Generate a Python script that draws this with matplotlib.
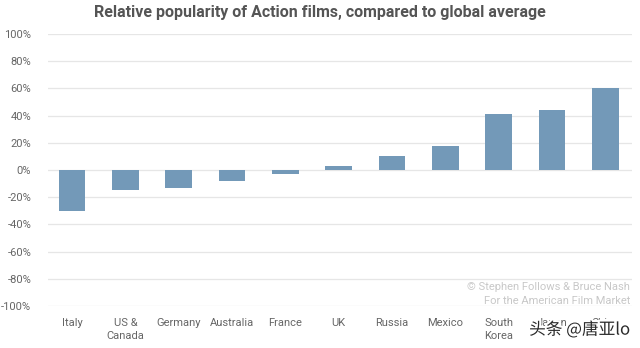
"""
Relative popularity of Action films by country, compared to the global average.
"""

import matplotlib.pyplot as plt
import matplotlib.patheffects as pe
from matplotlib.ticker import FuncFormatter

countries = ['Italy', 'US &\nCanada', 'Germany', 'Australia', 'France', 'UK',
             'Russia', 'Mexico', 'South\nKorea', 'Japan', 'China']
popularity = [-30, -15, -13, -8, -3, 3, 10, 18, 41, 44, 60]
y_ticks = [-100, -80, -60, -40, -20, 0, 20, 40, 60, 80, 100]

plt.rcParams['font.family'] = ['Roboto', 'DejaVu Sans']

fig = plt.figure(figsize=(6.4, 3.48), dpi=100)
ax = fig.add_axes([48 / 640, 42 / 348, 584 / 640, 272 / 348])

x = list(range(len(countries)))
ax.bar(x, popularity, width=0.5, color='#7399b8', zorder=3)

ax.set_ylim(-100, 100)
ax.set_xlim(-0.45, 10.5)
ax.set_yticks(y_ticks)
ax.yaxis.set_major_formatter(FuncFormatter(lambda v, p: f'{v:.0f}%'))
ax.set_xticks(x)
ax.set_xticklabels(countries, fontsize=8, color='#666666', linespacing=1.3)
ax.tick_params(axis='y', labelsize=8, labelcolor='#666666', length=0, pad=12)
ax.tick_params(axis='x', length=0, pad=9)
for lbl in ax.get_xticklabels():
    lbl.set_verticalalignment('top')

ax.grid(axis='y', color='#e6e6e6', linewidth=0.9, zorder=0)
for s in ax.spines.values():
    s.set_visible(False)

fig.text(0.5, 0.965, 'Relative popularity of Action films, compared to global average',
         ha='center', va='center', fontsize=11.5, fontweight='bold', color='#555555')

fig.text(630 / 640, 1 - 287 / 348, '© Stephen Follows & Bruce Nash',
         ha='right', va='center', fontsize=8, color='#c8c8c8')
fig.text(630 / 640, 1 - 301 / 348, 'For the American Film Market',
         ha='right', va='center', fontsize=8, color='#c8c8c8')

# watermark sits on top of the Japan / China labels, as in the source image
wm = fig.text(630 / 640, 1 - 330 / 348, '头条 @唐亚lo', ha='right', va='center',
              fontsize=12, color='#2a2a2a', zorder=10,
              family=['Noto Sans CJK SC', 'DejaVu Sans'])
wm.set_path_effects([pe.withStroke(linewidth=3, foreground='white')])

fig.savefig('out.png', dpi=100, facecolor='white')
